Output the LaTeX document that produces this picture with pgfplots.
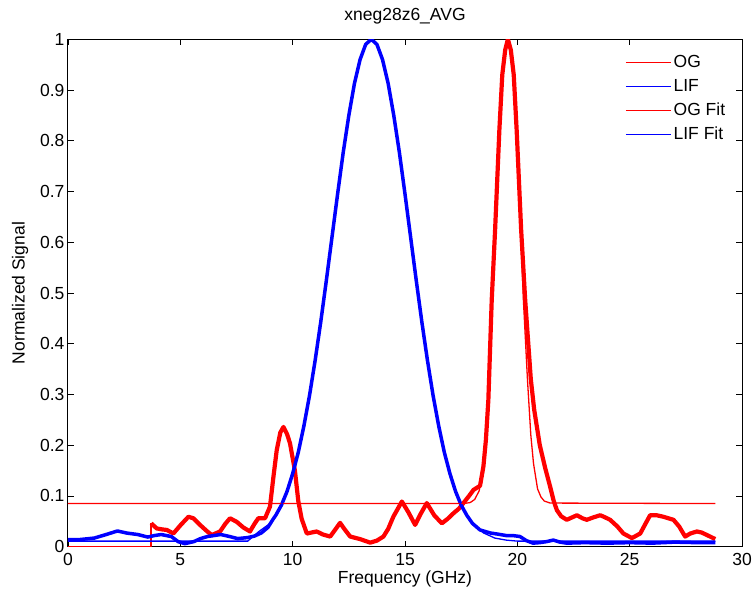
\documentclass[border=0pt]{standalone}
\usepackage{fontspec}
\setmainfont{Liberation Sans}
\usepackage{pgfplots}
\pgfplotsset{compat=1.18}
\begin{document}
\begin{tikzpicture}[font=\fontsize{17.5}{20}\selectfont]
\begin{axis}[
  scale only axis, width=674pt, height=507.4pt,
  xmin=0, xmax=30, ymin=0, ymax=1,
  xtick={0,5,...,30}, ytick={0,0.1,...,1.0},
  yticklabels={0,0.1,0.2,0.3,0.4,0.5,0.6,0.7,0.8,0.9,1},
  /pgf/number format/assume math mode=true,
  xticklabel style={yshift=-3pt},
  tick align=inside, major tick length=6pt,
  every tick/.style={black, line width=0.8pt},
  axis line style={line width=1pt},
  title={xneg28z6\_AVG},
  title style={at={(rel axis cs:0.5,1)}, anchor=center, yshift=17pt},
  xlabel={Frequency (GHz)},
  xlabel style={at={(rel axis cs:0.5,0)}, anchor=center, yshift=-32pt},
  ylabel={Normalized Signal},
  ylabel style={at={(rel axis cs:0,0.5)}, anchor=center, yshift=48pt},
  legend style={draw=none, fill=none, at={(rel axis cs:0.822,0.979)}, anchor=north west,
    row sep=3pt, nodes={inner sep=2pt, text height=13pt, text depth=4pt},
    /tikz/every even column/.append style={column sep=4pt}},
  legend cell align=left,
  legend image code/.code={\draw[#1, line width=1.4pt] (0pt,0pt) -- (45pt,0pt);},
  line join=round,
]
\addplot[red, line width=1.3pt, forget plot] coordinates {(0,0) (3.7,0) (3.7,0.046)};
\addplot[red, line width=4.2pt] coordinates {
(3.70,0.046) (3.95,0.036) (4.2,0.034) (4.4,0.033) (4.69,0.026) (5.0,0.042)
(5.36,0.059) (5.58,0.056) (5.9,0.042) (6.2,0.03) (6.4,0.023) (6.77,0.03)
(7.0,0.045) (7.21,0.056) (7.51,0.049) (7.8,0.038) (8.1,0.03) (8.3,0.045)
(8.47,0.056) (8.77,0.056) (8.99,0.079) (9.15,0.14) (9.29,0.19) (9.45,0.225)
(9.59,0.236) (9.75,0.222) (9.88,0.204) (10.1,0.15) (10.25,0.09) (10.4,0.055)
(10.63,0.026) (10.85,0.028) (11.07,0.03) (11.35,0.024) (11.67,0.02) (11.9,0.034)
(12.11,0.047) (12.3,0.035) (12.56,0.02) (13.0,0.015) (13.45,0.008) (13.75,0.012)
(14.04,0.02) (14.25,0.035) (14.48,0.059) (14.86,0.089) (15.15,0.068) (15.45,0.043)
(15.7,0.065) (15.97,0.086) (16.3,0.062) (16.64,0.046) (16.9,0.055) (17.16,0.066)
(17.4,0.075) (17.6,0.086) (17.85,0.1) (18.05,0.112) (18.34,0.12) (18.49,0.158)
(18.6,0.21) (18.71,0.289) (18.86,0.486) (19.01,0.624) (19.2,0.821) (19.33,0.93)
(19.46,0.979) (19.58,1.0) (19.71,0.979) (19.84,0.93) (19.97,0.821) (20.17,0.624)
(20.35,0.486) (20.6,0.33) (20.75,0.27) (21.0,0.2) (21.24,0.155) (21.45,0.12)
(21.62,0.09) (21.76,0.072) (21.95,0.06) (22.2,0.053) (22.45,0.058) (22.65,0.062)
(22.9,0.056) (23.09,0.053) (23.4,0.058) (23.69,0.062) (23.9,0.058) (24.13,0.053)
(24.45,0.04) (24.72,0.026) (25.1,0.017) (25.47,0.026) (25.7,0.045) (25.91,0.062)
(26.2,0.062) (26.5,0.059) (26.95,0.053) (27.2,0.04) (27.47,0.02) (27.7,0.026)
(27.99,0.03) (28.2,0.028) (28.44,0.023) (28.81,0.015)};
\addlegendentry{OG}
\addplot[blue, line width=3.5pt] coordinates {
(0,0.014) (0.5,0.014) (1.17,0.017) (1.7,0.024) (2.2,0.031) (2.6,0.027)
(3.1,0.024) (3.55,0.019) (3.85,0.022) (4.15,0.024) (4.6,0.02) (4.9,0.01)
(5.2,0.006) (5.6,0.01) (5.9,0.016) (6.2,0.02) (6.8,0.024) (7.2,0.02)
(7.55,0.016) (8.0,0.018) (8.3,0.021) (8.6,0.027) (8.9,0.038) (9.14,0.055)
(9.25,0.062) (9.5,0.082) (9.75,0.109) (10.0,0.144) (10.25,0.186) (10.5,0.238)
(10.75,0.298) (11.0,0.367) (11.25,0.443) (11.5,0.525) (11.75,0.610) (12.0,0.695)
(12.25,0.777) (12.5,0.850) (12.75,0.913) (13.0,0.960) (13.25,0.990) (13.5,1.0)
(13.75,0.990) (14.0,0.960) (14.25,0.913) (14.5,0.850) (14.75,0.777) (15.0,0.695)
(15.25,0.610) (15.5,0.525) (15.75,0.443) (16.0,0.367) (16.25,0.298) (16.5,0.238)
(16.75,0.186) (17.0,0.144) (17.25,0.109) (17.5,0.082) (17.75,0.062) (18.0,0.046)
(18.34,0.033) (18.8,0.027) (19.1,0.025) (19.5,0.022) (19.8,0.022) (20.12,0.02)
(20.4,0.012) (20.7,0.007) (21.0,0.008) (21.3,0.01) (21.6,0.013) (21.9,0.009)
(22.2,0.007) (23.0,0.008) (24.0,0.007) (25.0,0.008) (26.0,0.007) (27.0,0.009)
(28.0,0.008) (28.81,0.008)};
\addlegendentry{LIF}
\addplot[red, line width=1.3pt] coordinates {
(0,0.085) (17.6,0.085) (17.9,0.087) (18.1,0.093) (18.3,0.11) (18.49,0.158)
(18.6,0.21) (18.71,0.289) (18.86,0.486) (19.01,0.624) (19.2,0.821) (19.33,0.93)
(19.46,0.979) (19.58,1.0) (19.71,0.979) (19.84,0.93) (19.97,0.821) (20.15,0.624)
(20.27,0.486) (20.45,0.33) (20.6,0.22) (20.72,0.164) (20.9,0.114) (21.05,0.098)
(21.2,0.09) (21.46,0.086) (28.81,0.085)};
\addlegendentry{OG Fit}
\addplot[blue, line width=1.3pt] coordinates {
(0,0.011) (8.0,0.011) (8.5,0.03) (9.0,0.046) (9.25,0.062) (9.5,0.082) (9.75,0.109)
(10.0,0.144) (10.25,0.186) (10.5,0.238) (10.75,0.298) (11.0,0.367) (11.25,0.443)
(11.5,0.525) (11.75,0.610) (12.0,0.695) (12.25,0.777) (12.5,0.850) (12.75,0.913)
(13.0,0.960) (13.25,0.990) (13.5,1.0) (13.75,0.990) (14.0,0.960) (14.25,0.913)
(14.5,0.850) (14.75,0.777) (15.0,0.695) (15.25,0.610) (15.5,0.525) (15.75,0.443)
(16.0,0.367) (16.25,0.298) (16.5,0.238) (16.75,0.186) (17.0,0.144) (17.25,0.109)
(17.5,0.082) (17.75,0.062) (18.0,0.046) (18.5,0.027) (19.0,0.017) (19.5,0.013)
(20.0,0.011) (28.81,0.011)};
\addlegendentry{LIF Fit}
\coordinate (bl) at (rel axis cs:0,0);
\coordinate (tr) at (rel axis cs:1,1);
\end{axis}
\pgfresetboundingbox
\path ([xshift=-68pt,yshift=-47.3pt]bl) rectangle ([xshift=10pt,yshift=39.3pt]tr);
\end{tikzpicture}
\end{document}
